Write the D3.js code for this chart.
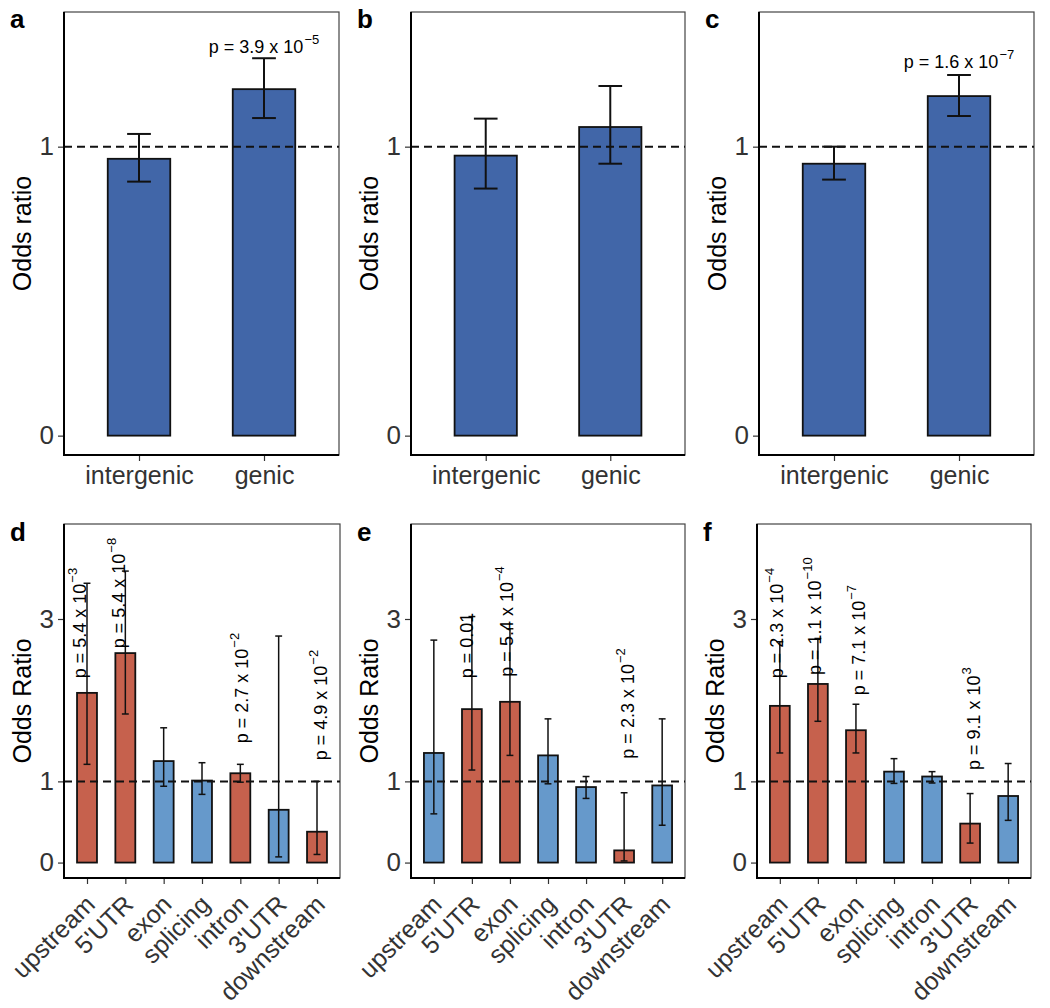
<!DOCTYPE html>
<html><head><meta charset="utf-8">
<script src="https://cdn.jsdelivr.net/npm/d3@7"></script>
<style>
body{margin:0;background:#fff}
svg{display:block}
text{font-family:"Liberation Sans", Arial, Helvetica, sans-serif}
</style>
</head><body>
<svg id="chart" width="1050" height="1008"></svg>
<script>
// ---------- DATA ----------
const topCategories = ["intergenic", "genic"];
const topYTicks = [0, 1];

const orA = [0.958, 1.199];
const loA = [0.879, 1.099];
const hiA = [1.044, 1.306];

const orB = [0.969, 1.068];
const loB = [0.855, 0.941];
const hiB = [1.097, 1.210];

const orC = [0.941, 1.175];
const loC = [0.886, 1.106];
const hiC = [1.000, 1.248];

const bottomCategories = ["upstream", "5'UTR", "exon", "splicing", "intron", "3'UTR", "downstream"];
const bottomYTicks = [0, 1, 3];

const orD = [2.09, 2.58, 1.25, 1.01, 1.10, 0.65, 0.38];
const loD = [1.21, 1.83, 0.94, 0.84, 0.99, 0.07, 0.10];
const hiD = [3.44, 3.59, 1.66, 1.23, 1.21, 2.79, 1.00];
const sigD = [1, 1, 0, 0, 1, 0, 1];

const orE = [1.35, 1.89, 1.98, 1.32, 0.93, 0.15, 0.95];
const loE = [0.60, 1.14, 1.32, 0.97, 0.79, 0.02, 0.46];
const hiE = [2.74, 3.03, 2.88, 1.77, 1.06, 0.86, 1.77];
const sigE = [0, 1, 1, 0, 0, 1, 0];

const orF = [1.93, 2.20, 1.63, 1.12, 1.06, 0.48, 0.82];
const loF = [1.35, 1.74, 1.35, 0.975, 0.98, 0.24, 0.52];
const hiF = [2.72, 2.76, 1.95, 1.28, 1.12, 0.85, 1.22];
const sigF = [1, 1, 1, 0, 0, 1, 0];

// p-value annotations: category, offset in category units, y (data units), text, superscript
const pLabelsA = [{cat: "genic", dx: 0, y: 1.323, text: "p = 3.9 x 10", sup: "\u22125"}];
const pLabelsB = [];
const pLabelsC = [{cat: "genic", dx: 0, y: 1.271, text: "p = 1.6 x 10", sup: "\u22127"}];
const pLabelsD = [
  {cat: "upstream", dx: -0.02, y: 2.27, text: "p = 5.4 x 10", sup: "\u22123"},
  {cat: "5'UTR", dx: 0.0, y: 2.64, text: "p = 5.4 x 10", sup: "\u22128"},
  {cat: "intron", dx: 0.19, y: 1.47, text: "p = 2.7 x 10", sup: "\u22122"},
  {cat: "downstream", dx: 0.25, y: 1.26, text: "p = 4.9 x 10", sup: "\u22122"}
];
const pLabelsE = [
  {cat: "5'UTR", dx: 0.03, y: 2.27, text: "p = 0.01", sup: ""},
  {cat: "exon", dx: 0.08, y: 2.29, text: "p = 5.4 x 10", sup: "\u22124"},
  {cat: "3'UTR", dx: 0.27, y: 1.28, text: "p = 2.3 x 10", sup: "\u22122"}
];
const pLabelsF = [
  {cat: "upstream", dx: 0.08, y: 2.27, text: "p = 2.3 x 10", sup: "\u22124"},
  {cat: "5'UTR", dx: 0.08, y: 2.31, text: "p = 1.1 x 10", sup: "\u221210"},
  {cat: "exon", dx: 0.25, y: 2.06, text: "p = 7.1 x 10", sup: "\u22127"},
  {cat: "3'UTR", dx: 0.26, y: 1.14, text: "p = 9.1 x 10", sup: "3"}
];

// ---------- STYLE / LAYOUT ----------
const topBlue = "#4166A8";
const botBlue = "#6699CB";
const red = "#C6614D";

const svg = d3.select("#chart");

const panels = [
  {letter: "a", x0: 64, x1: 339, y0: 12, y1: 455, cats: topCategories, or: orA, lo: loA, hi: hiA, sig: null, labels: pLabelsA, top: true, title: "Odds ratio"},
  {letter: "b", x0: 411, x1: 685, y0: 12, y1: 455, cats: topCategories, or: orB, lo: loB, hi: hiB, sig: null, labels: pLabelsB, top: true, title: "Odds ratio"},
  {letter: "c", x0: 759, x1: 1034, y0: 12, y1: 455, cats: topCategories, or: orC, lo: loC, hi: hiC, sig: null, labels: pLabelsC, top: true, title: "Odds ratio"},
  {letter: "d", x0: 64, x1: 340, y0: 524, y1: 878, cats: bottomCategories, or: orD, lo: loD, hi: hiD, sig: sigD, labels: pLabelsD, top: false, title: "Odds Ratio"},
  {letter: "e", x0: 411, x1: 685, y0: 524, y1: 878, cats: bottomCategories, or: orE, lo: loE, hi: hiE, sig: sigE, labels: pLabelsE, top: false, title: "Odds Ratio"},
  {letter: "f", x0: 757, x1: 1031, y0: 524, y1: 878, cats: bottomCategories, or: orF, lo: loF, hi: hiF, sig: sigF, labels: pLabelsF, top: false, title: "Odds Ratio"}
];

panels.forEach(p => {
  const n = p.cats.length;
  const x = d3.scaleLinear().domain([0.4, n + 0.6]).range([p.x0, p.x1]);
  const y = d3.scaleLinear().domain(p.top ? [-0.067, 1.466] : [-0.19, 4.17]).range([p.y1, p.y0]);
  const pxPerCat = x(2) - x(1);
  const barW = (p.top ? 0.5 : 0.52) * pxPerCat;
  const capW = (p.top ? 0.19 : 0.18) * pxPerCat;
  const g = svg.append("g");

  // frame
  g.append("rect").attr("x", p.x0).attr("y", p.y0)
    .attr("width", p.x1 - p.x0).attr("height", p.y1 - p.y0)
    .attr("fill", "none").attr("stroke", "#444").attr("stroke-width", 1.2);

  const data = p.cats.map((c, i) => ({c, i, or: p.or[i], lo: p.lo[i], hi: p.hi[i],
    fill: p.top ? topBlue : (p.sig[i] ? red : botBlue)}));

  // bars
  g.selectAll("rect.bar").data(data).enter().append("rect")
    .attr("class", "bar")
    .attr("x", d => x(d.i + 1) - barW / 2)
    .attr("width", barW)
    .attr("y", d => y(d.or))
    .attr("height", d => y(0) - y(d.or))
    .attr("fill", d => d.fill)
    .attr("stroke", "#111").attr("stroke-width", 1.8);

  // reference line
  g.append("line").attr("x1", p.x0).attr("x2", p.x1)
    .attr("y1", y(1)).attr("y2", y(1))
    .attr("stroke", "#111").attr("stroke-width", 2)
    .attr("stroke-dasharray", "8,5");

  // error bars
  const ew = p.top ? 2 : 1.5;
  const eb = g.selectAll("g.eb").data(data).enter().append("g").attr("class", "eb")
    .attr("stroke", "#111").attr("stroke-width", ew);
  eb.append("line").attr("x1", d => x(d.i + 1)).attr("x2", d => x(d.i + 1))
    .attr("y1", d => y(d.lo)).attr("y2", d => y(d.hi));
  eb.append("line").attr("x1", d => x(d.i + 1) - capW / 2).attr("x2", d => x(d.i + 1) + capW / 2)
    .attr("y1", d => y(d.hi)).attr("y2", d => y(d.hi));
  eb.append("line").attr("x1", d => x(d.i + 1) - capW / 2).attr("x2", d => x(d.i + 1) + capW / 2)
    .attr("y1", d => y(d.lo)).attr("y2", d => y(d.lo));

  // axes lines (left & bottom heavier)
  g.append("line").attr("x1", p.x0).attr("x2", p.x0).attr("y1", p.y0).attr("y2", p.y1 + 1)
    .attr("stroke", "#000").attr("stroke-width", 2);
  g.append("line").attr("x1", p.x0 - 1).attr("x2", p.x1).attr("y1", p.y1).attr("y2", p.y1)
    .attr("stroke", "#000").attr("stroke-width", 2);

  // y axis
  const yAxis = d3.axisLeft(y).tickValues(p.top ? topYTicks : bottomYTicks)
    .tickFormat(d3.format("d")).tickSize(5).tickPadding(4);
  const ya = g.append("g").attr("transform", `translate(${p.x0 - 1},0)`).call(yAxis);
  ya.select(".domain").remove();
  ya.selectAll(".tick line").attr("stroke", "#333").attr("stroke-width", 1.2);
  ya.selectAll(".tick text").attr("fill", "#333").style("font-size", "26px");

  // x axis
  const xAxis = d3.axisBottom(x).tickValues(d3.range(1, n + 1))
    .tickFormat(v => p.cats[v - 1]).tickSize(5).tickPadding(5);
  const xa = g.append("g").attr("transform", `translate(0,${p.y1 + 1})`).call(xAxis);
  xa.select(".domain").remove();
  xa.selectAll(".tick line").attr("stroke", "#333").attr("stroke-width", 1.2);
  xa.selectAll(".tick text").attr("fill", "#333").style("font-size", "25px");
  if (!p.top) {
    xa.selectAll(".tick text")
      .attr("y", 0).attr("dy", null)
      .attr("text-anchor", "end")
      .attr("transform", "translate(9,27) rotate(-45)");
  }

  // y title
  g.append("text")
    .attr("transform", `translate(${p.x0 - 33},${(p.y0 + p.y1) / 2}) rotate(-90)`)
    .attr("text-anchor", "middle")
    .style("font-size", "25px").attr("fill", "#000")
    .text(p.title);

  // panel letter
  g.append("text")
    .attr("x", p.x0 - 54).attr("y", p.top ? 28 : 541)
    .style("font-size", "26px").style("font-weight", "bold")
    .text(p.letter);

  // p-value labels
  p.labels.forEach(l => {
    const ci = p.cats.indexOf(l.cat) + 1;
    const t = g.append("text").style("font-size", "18px").attr("fill", "#000");
    if (p.top) {
      t.attr("x", x(ci + l.dx)).attr("y", y(l.y)).attr("text-anchor", "middle");
    } else {
      t.attr("transform", `translate(${x(ci + l.dx)},${y(l.y)}) rotate(-90)`).attr("text-anchor", "start");
    }
    t.append("tspan").text(l.text);
    if (l.sup) {
      t.append("tspan").attr("dy", -9).attr("dx", 1).style("font-size", "13px").text(l.sup);
    }
  });
});
</script>
</body></html>
